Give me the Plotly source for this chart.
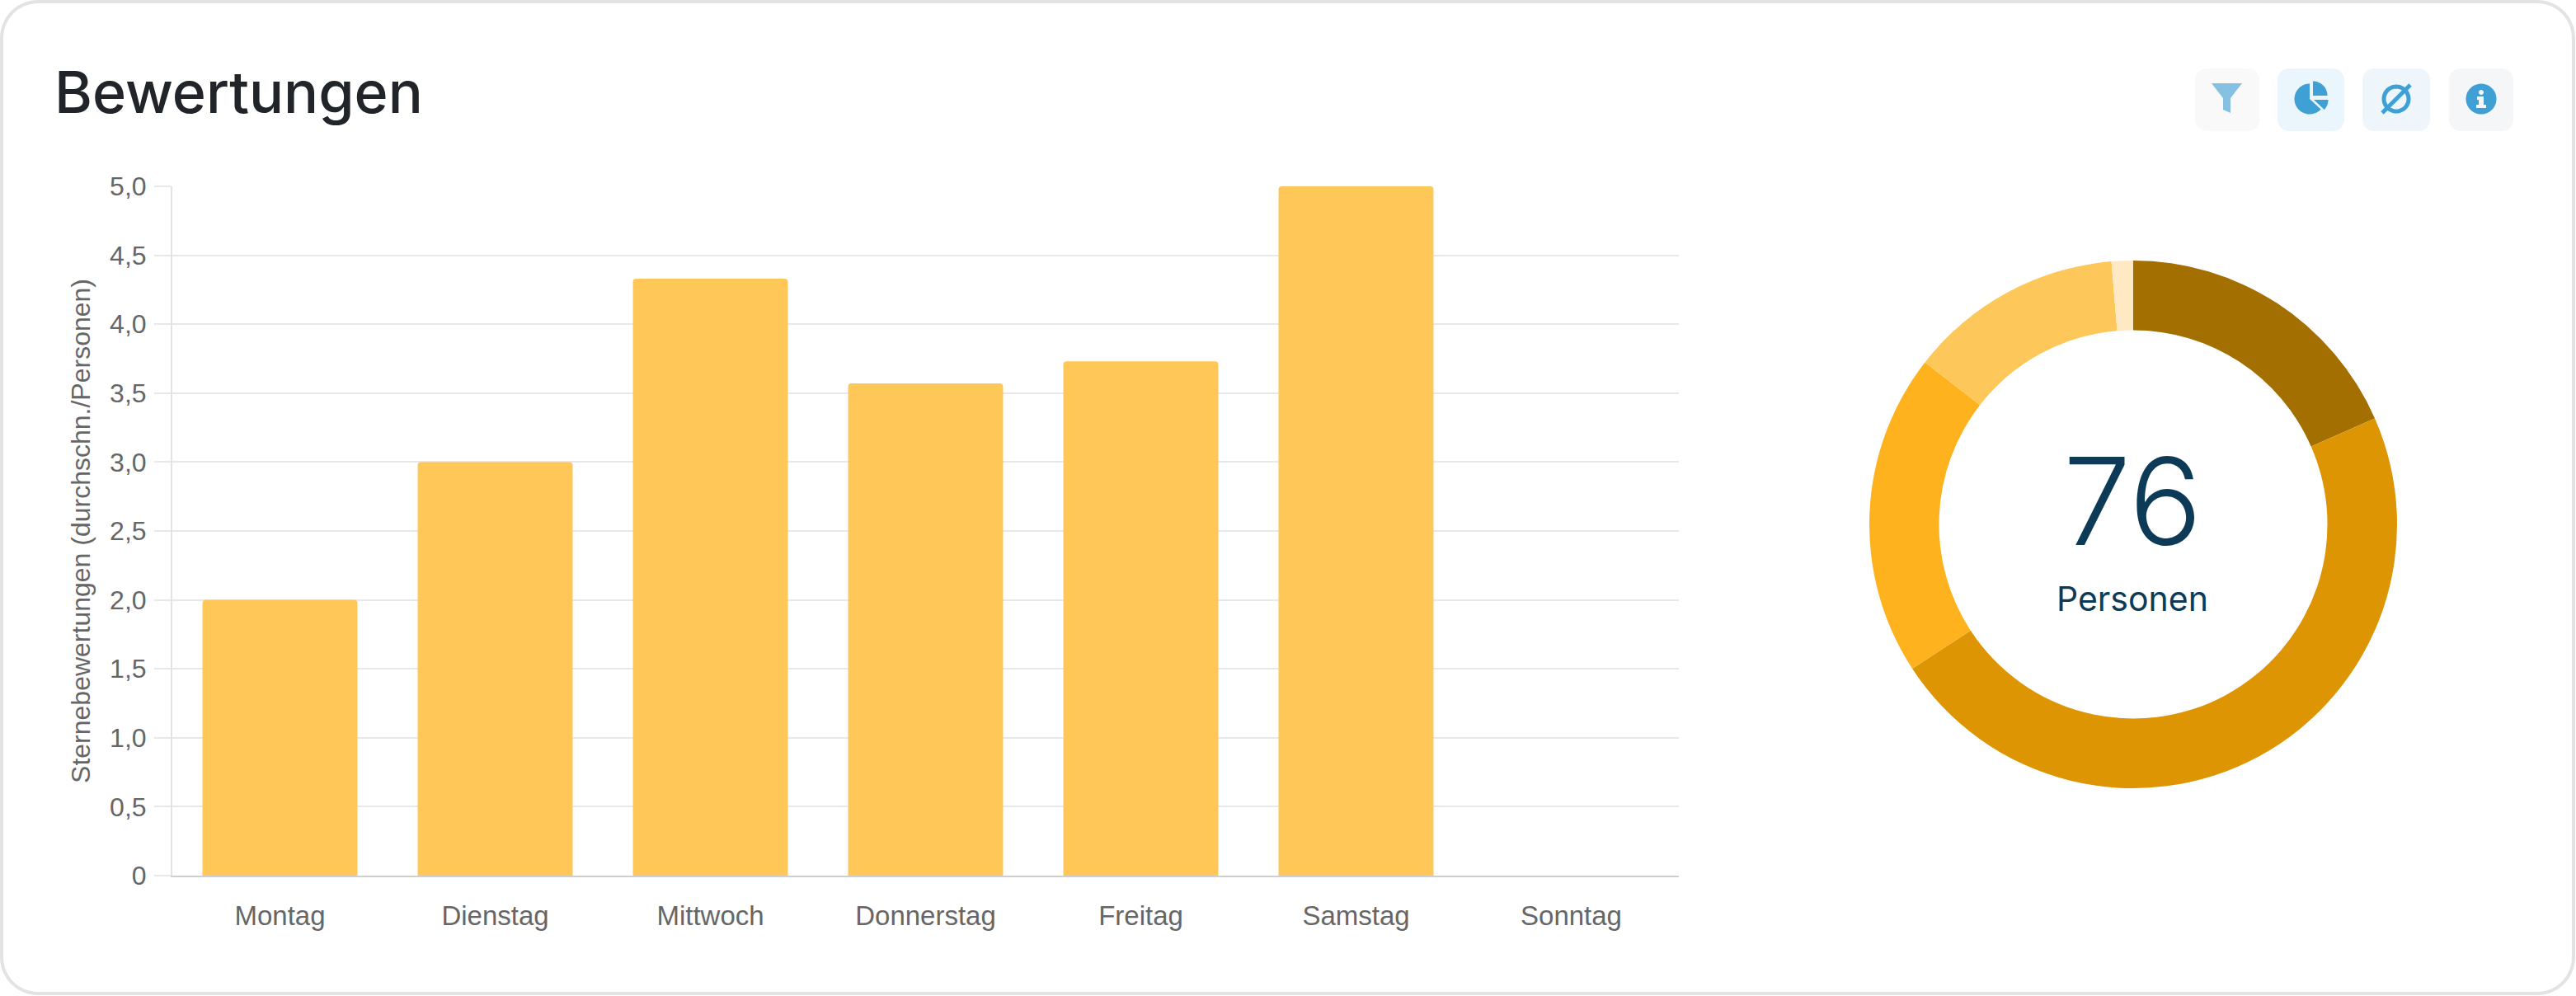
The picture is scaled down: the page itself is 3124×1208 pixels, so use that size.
import numpy as np
import plotly.graph_objects as go

# Average star rating per weekday
days = ["Montag", "Dienstag", "Mittwoch", "Donnerstag", "Freitag", "Samstag", "Sonntag"]
avg_stars = [2.0, 3.0, 4.33, 3.57, 3.73, 5.0, None]
y_ticks = [0, 0.5, 1, 1.5, 2, 2.5, 3, 3.5, 4, 4.5, 5]
y_tick_labels = ["0", "0,5", "1,0", "1,5", "2,0", "2,5", "3,0", "3,5", "4,0", "4,5", "5,0"]

# Number of people per rating group
star_groups = ["5 Sterne", "4 Sterne", "3 Sterne", "2 Sterne", "1 Stern"]
people = [14, 36, 15, 10, 1]
group_colors = ["#A36F00", "#DE9504", "#FDB21E", "#FEC759", "#FFE9C4"]

W, H = 3124, 1208
BAR_COLOR = "#FEC758"
ICON = "#3FA0D5"
ICON_SOFT = "#86C1E3"


def px(x):
    return x / W


def py(y):
    return 1 - y / H


def pts(points, close=True):
    body = "L".join(f"{px(x):.6f},{py(y):.6f}" for x, y in points)
    return "M" + body + ("Z" if close else "")


def rounded(x0, y0, x1, y1, r):
    out = []
    for cx, cy, start in ((x1 - r, y0 + r, -90), (x1 - r, y1 - r, 0), (x0 + r, y1 - r, 90), (x0 + r, y0 + r, 180)):
        for a in np.radians(np.linspace(start, start + 90, 12)):
            out.append((cx + r * np.cos(a), cy + r * np.sin(a)))
    return out


def arc(cx, cy, r, a0, a1, n=48):
    # angles in degrees, clockwise from twelve o'clock
    return [(cx + r * np.sin(a), cy - r * np.cos(a)) for a in np.radians(np.linspace(a0, a1, n))]


def path_shape(path, fill, line=None, width=0, layer="above"):
    return dict(type="path", xref="paper", yref="paper", path=path, fillcolor=fill,
                line=dict(color=line or fill, width=width), layer=layer)


shapes = [
    # card outline
    path_shape(pts(rounded(2, 2, W - 3, H - 3, 44)), "#FFFFFF", "#E1E3E4", 4, "below"),
]

# toolbar buttons
for x0, x1, color in ((2662, 2740, "#F9F9FA"), (2762, 2843, "#EBF5FC"), (2865, 2947, "#EEF6FC"), (2970, 3048, "#F5F6F7")):
    shapes.append(path_shape(pts(rounded(x0, 83, x1, 159, 14)), color))

# funnel
shapes.append(path_shape(pts([(2682, 101), (2719, 101), (2705, 119), (2705, 137), (2696, 133), (2696, 119)]), ICON_SOFT))

# pie chart icon
shapes.append(path_shape(pts([(2801, 120)] + arc(2801, 120, 18.5, 133, 360)), ICON))
shapes.append(path_shape(pts([(2805, 116)] + arc(2805, 116, 17.5, 0, 90)), ICON))
shapes.append(path_shape(pts([(2806, 121)] + arc(2806, 121, 17.5, 90, 133)), ICON))

# slashed circle
shapes.append(path_shape(pts(arc(2906, 120, 15, 0, 360)), "rgba(0,0,0,0)", ICON, 5))
shapes.append(path_shape(pts([(2889, 137), (2923, 103)], close=False), "rgba(0,0,0,0)", ICON, 5))

# info badge
shapes.append(path_shape(pts(arc(3009, 120, 18.5, 0, 360)), ICON))
shapes.append(path_shape(pts(arc(3009, 112, 3, 0, 360)), "#F5F6F7"))
shapes.append(path_shape(pts([(3004, 117), (3012, 117), (3012, 127), (3015, 127), (3015, 131), (3003, 131),
                              (3003, 127), (3006, 127), (3006, 121), (3004, 121)]), "#F5F6F7"))

fig = go.Figure()

fig.add_trace(go.Bar(
    x=days, y=avg_stars, width=0.72,
    marker=dict(color=BAR_COLOR, cornerradius=4, line=dict(width=0)),
    hoverinfo="x+y", showlegend=False,
))

DONUT_X, DONUT_Y, DONUT_R = 2587, 636, 320
fig.add_trace(go.Pie(
    labels=star_groups, values=people, hole=0.736, sort=False, direction="clockwise", rotation=0,
    marker=dict(colors=group_colors, line=dict(width=0)),
    textinfo="none", showlegend=False,
    domain=dict(x=[px(DONUT_X - DONUT_R), px(DONUT_X + DONUT_R)],
                y=[py(DONUT_Y + DONUT_R), py(DONUT_Y - DONUT_R)]),
))

annotations = [
    dict(text="Bewertungen", x=px(64), y=py(111), xref="paper", yref="paper", xanchor="left", yanchor="middle",
         showarrow=False, font=dict(family="Inter", size=70, color="#212529", weight=500)),
    dict(text=str(sum(people)), x=px(2586), y=py(607), xref="paper", yref="paper", xanchor="center", yanchor="middle",
         showarrow=False, font=dict(family="Inter", size=147, color="#0D3B57", weight=300)),
    dict(text="Personen", x=px(2586), y=py(726), xref="paper", yref="paper", xanchor="center", yanchor="middle",
         showarrow=False, font=dict(family="Inter", size=41, color="#0D3B57")),
]

fig.update_layout(
    width=W, height=H, margin=dict(l=0, r=0, t=0, b=0, autoexpand=False),
    paper_bgcolor="#FFFFFF", plot_bgcolor="rgba(0,0,0,0)",
    shapes=shapes, annotations=annotations,
    xaxis=dict(
        domain=[px(209), px(2036)], anchor="y", range=[-0.5, 6.5], type="category", automargin=False,
        showgrid=False, zeroline=False, showline=True, linecolor="#CFCFD2", linewidth=2, ticks="",
        tickfont=dict(family="Liberation Sans", size=33, color="#666666"), ticklabelstandoff=18,
    ),
    yaxis=dict(
        domain=[py(1062), py(226)], anchor="x", range=[0, 5], automargin=False,
        tickmode="array", tickvals=y_ticks, ticktext=y_tick_labels,
        showgrid=True, gridcolor="#E8E8EA", gridwidth=2, zeroline=False,
        showline=True, linecolor="#E3E3E5", linewidth=2,
        ticks="outside", ticklen=20, tickwidth=2, tickcolor="#E8E8EA",
        tickfont=dict(family="Liberation Sans", size=32, color="#666666"), ticklabelstandoff=3,
        title=dict(text="Sternebewertungen (durchschn./Personen)", standoff=14,
                   font=dict(family="Liberation Sans", size=32, color="#666666")),
    ),
)

fig.write_html("out.html", config=dict(displayModeBar=False))
